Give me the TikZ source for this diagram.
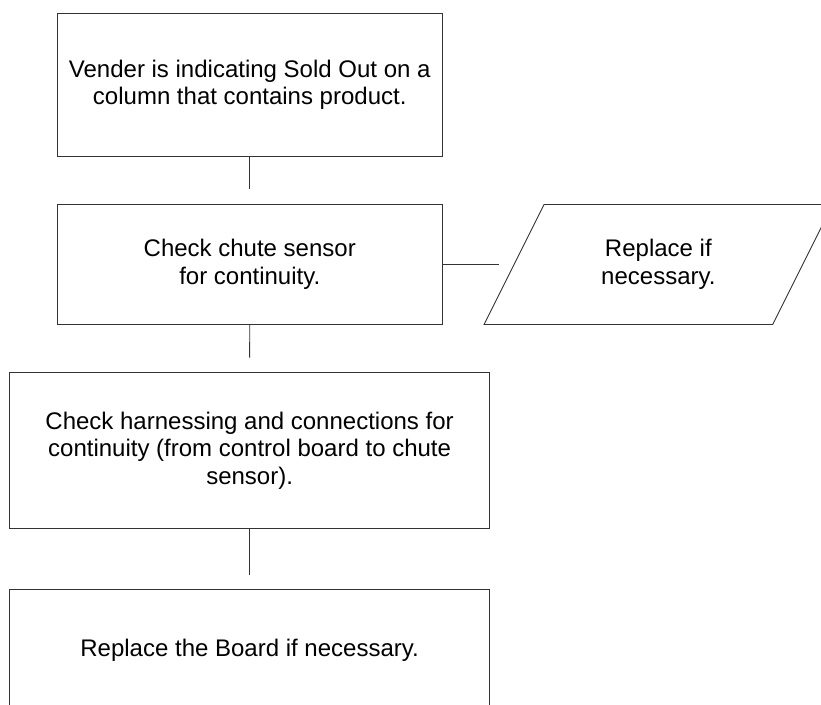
\documentclass[tikz,border=0pt]{standalone}
\usepackage{fontspec}
\setmainfont{Liberation Sans}
\usetikzlibrary{calc}
\begin{document}
\begin{tikzpicture}[x=1pt,y=-1pt,
  every node/.style={font=\fontsize{24}{27.6}\selectfont, inner sep=0pt, outer sep=0pt, align=center},
  stepbox/.style={draw=black!80, line width=0.9pt, fill=white},
  link/.style={draw=black!80, line width=0.9pt, shorten >=15pt}]
\useasboundingbox (0,0) rectangle (821,704);
\clip (0,0) rectangle (821,704);
\node[stepbox, minimum width=384.5pt, minimum height=142.5pt] (b1) at (249.75,84.75)
  {Vender is indicating Sold Out on a\\column that contains product.};
\node[stepbox, minimum width=384.5pt, minimum height=120.5pt] (b2) at (249.75,264.5)
  {Check chute sensor\\for continuity.};
\node[minimum width=348.7pt, minimum height=120pt] (rep) at (658.35,264.5)
  {Replace if\\necessary.};
\draw[draw=black!80, line width=0.9pt]
  (rep.south west) -- ($(rep.south east)+(-60,0)$) -- (rep.north east)
  -- ($(rep.north west)+(60,0)$) -- cycle;
\coordinate (repleft) at ($(rep.west)+(30,0)$);
\node[stepbox, minimum width=480.2pt, minimum height=155.6pt] (b3) at (249.6,450.5)
  {Check harnessing and connections for\\continuity (from control board to chute\\sensor).};
\node[stepbox, minimum width=480pt, minimum height=121pt] (b4) at (249.6,650)
  {Replace the Board if necessary.};
\draw[link] (b1.south) -- (b2.north);
\draw[link] (b2.east) -- (repleft);
\draw[link] (b2.south) -- (b3.north);
\draw[link] (b3.south) -- (b4.north);
\end{tikzpicture}
\end{document}
